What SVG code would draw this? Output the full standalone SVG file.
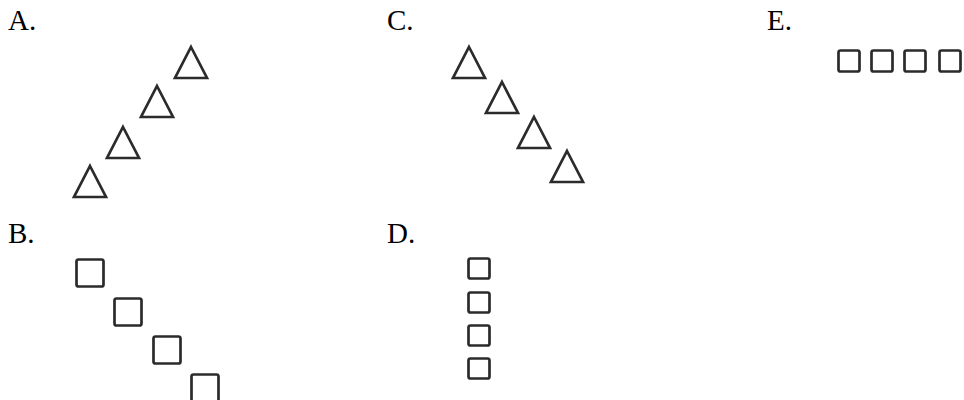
<svg xmlns="http://www.w3.org/2000/svg" width="964" height="400" viewBox="0 0 964 400">
<style>
.lbl{font-family:"Liberation Serif","Times New Roman",serif;font-size:29px;fill:#000}
.sh{fill:none;stroke:#2b2b2b;stroke-width:2.7;stroke-linejoin:miter}
</style>
<defs>
<path id="tri" class="sh" d="M0,0 L16,31 L-16,31 Z"/>
</defs>
<rect width="964" height="400" fill="#fff"/>
<g id="optA">
<text class="lbl" x="8" y="30">A.</text>
<use href="#tri" x="191" y="47"/>
<use href="#tri" x="157" y="86"/>
<use href="#tri" x="123" y="127"/>
<use href="#tri" x="90" y="166"/>
</g>
<g id="optC">
<text class="lbl" x="387" y="30">C.</text>
<use href="#tri" x="469" y="47"/>
<use href="#tri" x="502" y="82"/>
<use href="#tri" x="534" y="117"/>
<use href="#tri" x="567" y="151"/>
</g>
<g id="optE">
<text class="lbl" x="767" y="30">E.</text>
<rect class="sh" x="838.5" y="50.5" width="21" height="21" rx="2"/>
<rect class="sh" x="871.5" y="50.5" width="21" height="21" rx="2"/>
<rect class="sh" x="904.5" y="50.5" width="21" height="21" rx="2"/>
<rect class="sh" x="939.5" y="50.5" width="21" height="21" rx="2"/>
</g>
<g id="optB">
<text class="lbl" x="8" y="243">B.</text>
<rect class="sh" x="76.5" y="259.5" width="27" height="27" rx="2"/>
<rect class="sh" x="114.5" y="298.5" width="27" height="27" rx="2"/>
<rect class="sh" x="153.5" y="336.5" width="27" height="27" rx="2"/>
<rect class="sh" x="191.5" y="374.5" width="27" height="27" rx="2"/>
</g>
<g id="optD">
<text class="lbl" x="387" y="243">D.</text>
<rect class="sh" x="468.5" y="258.5" width="21" height="20" rx="2"/>
<rect class="sh" x="468.5" y="292.5" width="21" height="20" rx="2"/>
<rect class="sh" x="468.5" y="325.5" width="21" height="20" rx="2"/>
<rect class="sh" x="468.5" y="358.5" width="21" height="20" rx="2"/>
</g>
</svg>
